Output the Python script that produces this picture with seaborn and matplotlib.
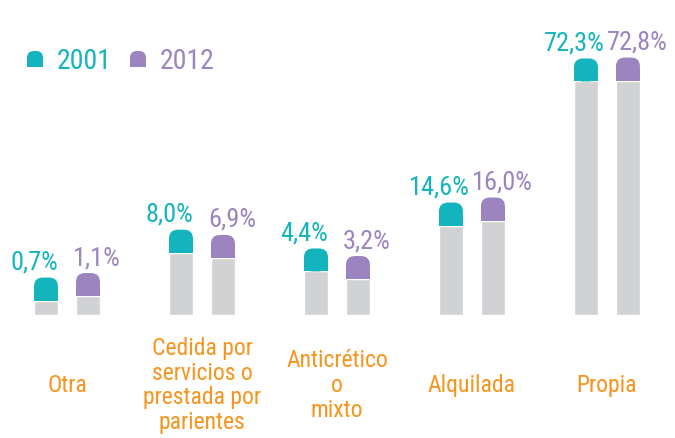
import matplotlib.pyplot as plt
import matplotlib.patches as mpatches
import matplotlib.transforms as mtransforms
import numpy as np
import pandas as pd
import seaborn as sns

# Tenencia de la vivienda, % de hogares
categories = ["Otra", "Cedida por\nservicios o\nprestada por\nparientes",
              "Anticrético\no\nmixto", "Alquilada", "Propia"]
years = ["2001", "2012"]
values_2001 = [0.7, 8.0, 4.4, 14.6, 72.3]
values_2012 = [1.1, 6.9, 3.2, 16.0, 72.8]

teal = "#14B4BE"
purple = "#9B84BF"
grey = "#D1D2D4"
orange = "#F7941D"

sns.set_style("white")
plt.rcParams['font.family'] = ['Ubuntu Condensed', 'Roboto Condensed',
                               'Liberation Sans Narrow', 'DejaVu Sans']

df = pd.DataFrame({
    "tipo": categories * 2,
    "anio": [years[0]] * len(categories) + [years[1]] * len(categories),
    "pct": values_2001 + values_2012,
})

W, H = 675, 439
fig = plt.figure(figsize=(W / 100, H / 100), dpi=100)
ax = fig.add_axes([0, 123 / H, 1, 316 / H])

sns.barplot(data=df, x="tipo", y="pct", hue="anio", palette=[grey, grey],
            width=0.622, saturation=1, errorbar=None, legend=False, ax=ax)

# compressed scale so that the small shares stay visible
power = 0.6
ax.set_yscale('function', functions=(lambda v: np.sign(v) * np.abs(v) ** power,
                                     lambda t: np.sign(t) * np.abs(t) ** (1 / power)))
ax.set_ylim(0, 119.7)
ax.set_xlim(-0.496, 4.504)

ident = mtransforms.IdentityTransform()


def draw_cap(x0, y0, w, h, r, color):
    fig.add_artist(mpatches.FancyBboxPatch((x0, y0), w, h,
                                           boxstyle=f"round,pad=0,rounding_size={r}",
                                           transform=ident, fc=color, ec='none'))
    fig.add_artist(mpatches.Rectangle((x0, y0), w, h / 2, transform=ident,
                                      fc=color, ec='none'))


bar_w = 24 / 135
cap_h = 23
for container, col, dx in zip(ax.containers, [teal, purple], [-12, 9]):
    for bar in container:
        v = bar.get_height()
        cx = bar.get_x() + bar.get_width() / 2
        bar.set_x(cx - bar_w / 2)
        bar.set_width(bar_w)
        x0, ytop = ax.transData.transform((cx - bar_w / 2, v))
        x1 = ax.transData.transform((cx + bar_w / 2, v))[0]
        draw_cap(x0, ytop, x1 - x0, cap_h, 9, col)
        ax.annotate(f"{v:.1f}%".replace('.', ','), xy=(cx, v), xytext=(dx, cap_h + 9),
                    textcoords='offset pixels', ha='center', va='baseline',
                    color=col, fontsize=19)

ax.set_xticks(range(len(categories)))
ax.set_xticklabels(categories, color=orange, fontsize=17, va='center', linespacing=1.1)
ax.tick_params(axis='x', length=0, pad=50)
ax.set_yticks([])
ax.set_xlabel('')
ax.set_ylabel('')
sns.despine(ax=ax, left=True, bottom=True)

# legend
for (mx, tx), label, col in zip([(27, 57), (130, 160)], years, [teal, purple]):
    draw_cap(mx, H - 68, 16, 16, 7, col)
    fig.text(tx / W, (H - 69) / H, label, color=col, fontsize=20, va='baseline')

fig.savefig('out.png', dpi=100)
